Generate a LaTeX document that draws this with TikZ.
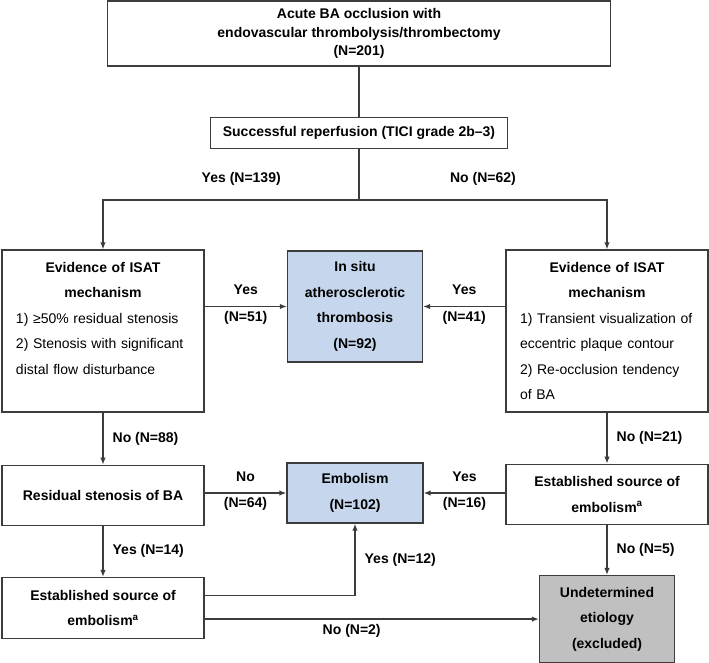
\documentclass[tikz,border=0pt]{standalone}
\usepackage{fontspec}
\setmainfont{Liberation Sans}
\usetikzlibrary{positioning,arrows.meta}
\definecolor{boxblue}{HTML}{C6D6EC}
\definecolor{boxgrey}{HTML}{C0C0C0}
\definecolor{linegrey}{HTML}{3C3C3C}

\begin{document}
\begin{tikzpicture}[
		x=1pt, y=-1pt,
		node distance=50pt and 50pt,
		mybox/.style={draw=linegrey,line width=1.3pt,fill=white,inner sep=0pt,align=center,font=\fontsize{14}{25.5}\selectfont},
		boldbox/.style={mybox,font=\fontsize{14}{25.5}\selectfont\bfseries},
		bluebox/.style={boldbox,fill=boxblue},
		greybox/.style={boldbox,fill=boxgrey},
		isatbox/.style={mybox,align=left,text width=174pt,minimum width=202pt,minimum height=162pt},
		mylabel/.style={font=\fontsize{14}{17}\selectfont\bfseries,inner sep=2pt,text height=10pt,text depth=3pt},
		myline/.style={draw=linegrey,line width=1.3pt},
		myarrow/.style={myline,-{Latex[length=7pt,width=5.5pt]}}
		]
		\useasboundingbox (0,0) rectangle (709,662);
		\node[boldbox,minimum width=503pt,minimum height=65pt,font=\fontsize{14}{18.5}\selectfont\bfseries] (acute) at (359,33.5) {Acute BA occlusion with\\endovascular thrombolysis/thrombectomy\\(N=201)};
		\node[boldbox,minimum width=297pt,minimum height=31pt,below=50pt of acute] (tici) {Successful reperfusion (TICI grade 2b--3)};
		\node[isatbox] (isatL) at (103,331) {\makebox[\hsize]{\bfseries Evidence of ISAT}\\\makebox[\hsize]{\bfseries mechanism}\\1) ≥50\% residual stenosis\\2) Stenosis with significant\\distal flow disturbance\\\mbox{}};
		\node[isatbox] (isatR) at (607,331) {\makebox[\hsize]{\bfseries Evidence of ISAT}\\\makebox[\hsize]{\bfseries mechanism}\\1) Transient visualization of\\eccentric plaque contour\\2) Re-occlusion tendency\\of BA};
		\node[bluebox,minimum width=135pt,minimum height=111pt] (situ) at (355,306.5) {In situ\\atherosclerotic\\thrombosis\\(N=92)};
		\node[boldbox,minimum width=202pt,minimum height=60pt,below=52pt of isatL] (resid) {Residual stenosis of BA};
		\node[bluebox,minimum width=136pt,minimum height=60pt] (embol) at (355,493) {Embolism\\(N=102)};
		\node[boldbox,minimum width=202pt,minimum height=60pt,below=51pt of isatR] (srcR) {Established source of\\embolism\textsuperscript{a}};
		\node[boldbox,minimum width=202pt,minimum height=61pt,below=51pt of resid] (srcL) {Established source of\\embolism\textsuperscript{a}};
		\node[greybox,minimum width=135pt,minimum height=87pt,below=50pt of srcR] (undet) {Undetermined\\etiology\\(excluded)};
		\coordinate[below=51pt of tici.south] (split);
		\draw[myline] (acute) -- (tici);
		\draw[myline] (tici) -- (split);
		\draw[myarrow] (split) -| node[mylabel,pos=0.23,above=12pt] {Yes (N=139)} (isatL.north);
		\draw[myarrow] (split) -| node[mylabel,pos=0.25,above=12pt] {No (N=62)} (isatR.north);
		\path
		(isatL.east |- situ.west) edge[myarrow] node[mylabel,above=6pt] {Yes} node[mylabel,below=2pt] {(N=51)} (situ.west)
		(isatR.west |- situ.east) edge[myarrow] node[mylabel,above=6pt] {Yes} node[mylabel,below=2pt] {(N=41)} (situ.east)
		(isatL) edge[myarrow] node[mylabel,right=7pt] {No (N=88)} (resid)
		(isatR) edge[myarrow] node[mylabel,right=7pt] {No (N=21)} (srcR)
		(resid.east |- embol.west) edge[myarrow] node[mylabel,above=6pt] {No} node[mylabel,below=2pt] {(N=64)} (embol.west)
		(srcR.west |- embol.east) edge[myarrow] node[mylabel,above=6pt] {Yes} node[mylabel,below=2pt] {(N=16)} (embol.east)
		(resid) edge[myarrow] node[mylabel,right=7pt] {Yes (N=14)} (srcL)
		(srcR) edge[myarrow] node[mylabel,right=7pt] {No (N=5)} (undet)
		(srcL.east |- undet.west) edge[myarrow] node[mylabel,pos=0.44,below=3pt] {No (N=2)} (undet.west);
		\draw[myarrow] ([yshift=12.5pt]srcL.east) -| node[mylabel,pos=0.75,right=7pt] {Yes (N=12)} (embol.south);
	\end{tikzpicture}
\end{document}
